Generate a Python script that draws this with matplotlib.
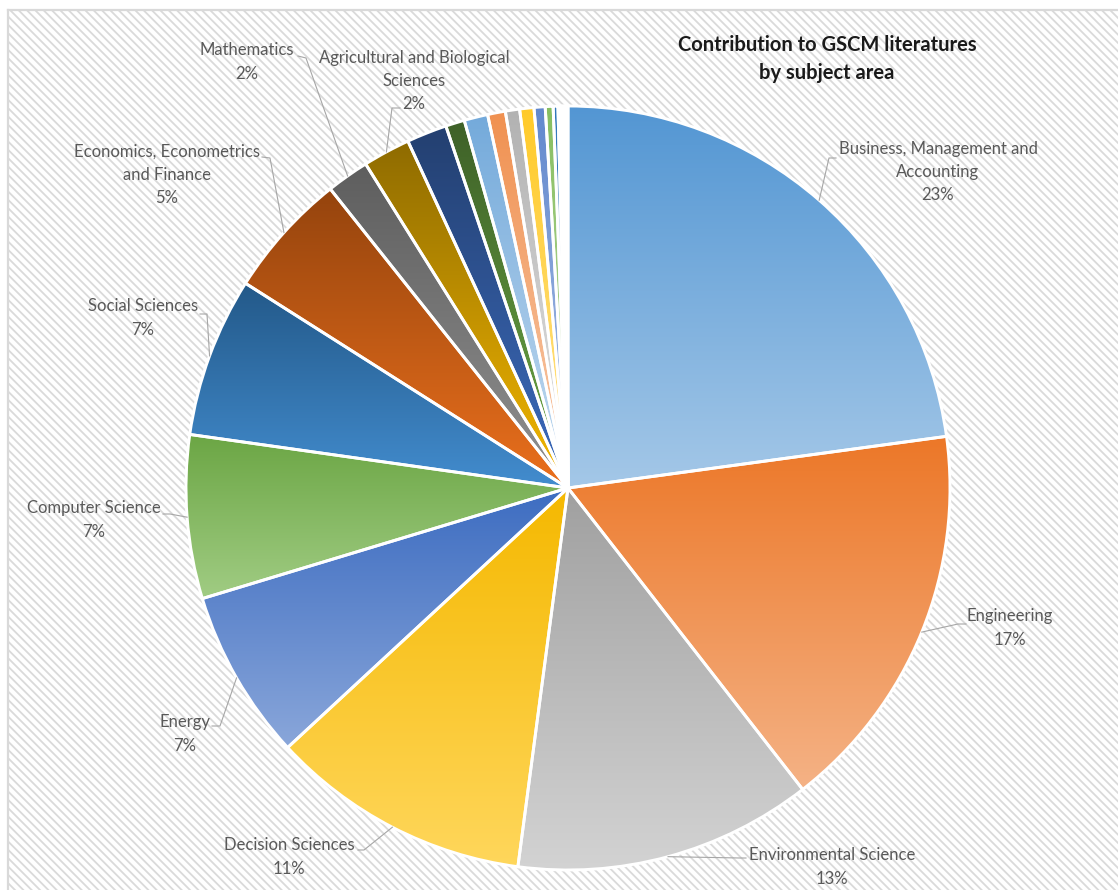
"""
Contribution to GSCM literatures by subject area -- Excel-style pie with
per-slice vertical gradient fills, leader-lined labels and hatched backdrop.
"""
import colorsys
import numpy as np
import matplotlib
matplotlib.use("Agg")
import matplotlib.pyplot as plt
from matplotlib.colors import to_rgb
from matplotlib.patches import Rectangle

plt.rcParams["font.family"] = ["Lato", "DejaVu Sans"]
plt.rcParams["hatch.linewidth"] = 1.3

W, H = 1118, 890  # canvas in pixels; the axes use pixel units (y up)

subjects = [
    "Business, Management and\nAccounting",
    "Engineering",
    "Environmental Science",
    "Decision Sciences",
    "Energy",
    "Computer Science",
    "Social Sciences",
    "Economics, Econometrics\nand Finance",
    "Mathematics",
    "Agricultural and Biological\nSciences",
    "Chemical Engineering",
    "Earth and Planetary Sciences",
    "Materials Science",
    "Chemistry",
    "Medicine",
    "Arts and Humanities",
    "Psychology",
    "Multidisciplinary",
    "Physics and Astronomy",
    "Biochemistry",
    "Health Professions",
    "Pharmacology",
    "Nursing",
]
shares = [22.8, 16.6, 12.6, 11.0, 7.2, 6.9, 6.75, 5.3, 1.8, 2.0,
          1.7, 0.8, 1.0, 0.75, 0.6, 0.6, 0.47, 0.33, 0.2, 0.12, 0.12,
          0.1, 0.08]
colors = ["#5B9BD5", "#ED7D31", "#A5A5A5", "#FFC000", "#4472C4", "#70AD47",
          "#255E91", "#9E480E", "#636363", "#997300", "#264478", "#43682B",
          "#7CAFDD", "#F1975A", "#B7B7B7", "#FFCD33", "#698ED0", "#8CC168",
          "#327DC2", "#BDD7EE", "#C55A11", "#D0CECE", "#FFE699"]
n_labelled = 10

# label block centres and leader elbows (pixels, measured from the top)
label_xy = [(938, 172), (1010, 628), (832, 867), (289, 857), (185, 734),
            (94, 520), (143, 318), (167, 175), (247, 62), (414, 81)]
leader_from = [[(836, 158), (829, 158)], [(966, 624), (958, 624)],
               [(746, 858), (740, 858)], [(358, 850), (364, 850)],
               [(212, 726), (220, 726)], [(163, 514), (170, 514)],
               [(200, 314), (207, 314)], [(262, 157), (270, 158)],
               [(298, 56), (306, 58)], [(400, 108), (392, 108)]]

center = (568, H - 488)
radius = 382


def shade(c, dl):
    h, l, s = colorsys.rgb_to_hls(*to_rgb(c))
    return colorsys.hls_to_rgb(h, min(1.0, max(0.0, l + dl)), s)


fig = plt.figure(figsize=(W / 100, H / 100), dpi=100)
ax = fig.add_axes([0, 0, 1, 1])

# hatched chart area with its thin grey frame
ax.add_patch(Rectangle((8, -10), W, H, facecolor="white",
                       edgecolor="#DADADA", hatch="\\\\\\\\", lw=0, zorder=0))
ax.plot([8, 8], [-10, H - 10], color="#D9D9D9", lw=1.6, zorder=1)
ax.plot([8, W + 10], [H - 10, H - 10], color="#D9D9D9", lw=1.6, zorder=1)

wedges, _ = ax.pie(shares, colors=colors, startangle=90, counterclock=False,
                   radius=radius, center=center, frame=True,
                   wedgeprops=dict(edgecolor="white", linewidth=2.1))

for w, c in zip(wedges, colors):
    bb = w.get_path().get_extents()
    grad = np.linspace(shade(c, -0.02), shade(c, 0.18), 256)[:, None, :]
    im = ax.imshow(grad, extent=(bb.x0, bb.x1, bb.y0, bb.y1), origin="upper",
                   aspect="auto", interpolation="bilinear", zorder=2)
    im.set_clip_path(w)
    w.set_facecolor("none")
    w.set_zorder(3)

total = sum(shares)
for i in range(n_labelled):
    w = wedges[i]
    mid = np.deg2rad((w.theta1 + w.theta2) / 2)
    end = (center[0] + radius * np.cos(mid), center[1] + radius * np.sin(mid))
    pts = [(x, H - y) for x, y in leader_from[i]] + [end]
    xs, ys = zip(*pts)
    ax.plot(xs, ys, color="#A6A6A6", lw=0.8, zorder=4)
    pct = shares[i] / total * 100
    lx, ly = label_xy[i]
    ax.text(lx, H - ly, f"{subjects[i]}\n{pct:.0f}%", ha="center",
            va="center", fontsize=12, color="#595959", linespacing=1.55,
            multialignment="center", zorder=5)

ax.text(827, H - 59, "Contribution to GSCM literatures\nby subject area",
        ha="center", va="center", fontsize=14.5, fontweight="bold",
        color="#1A1A1A", linespacing=1.45, zorder=5)

ax.set_xlim(0, W)
ax.set_ylim(0, H)
ax.set_aspect("auto")
ax.axis("off")
fig.savefig("out.png", dpi=100)
